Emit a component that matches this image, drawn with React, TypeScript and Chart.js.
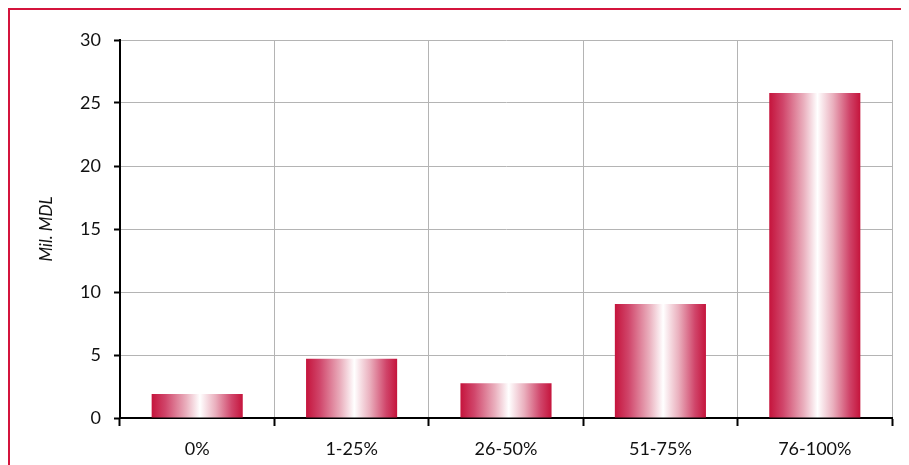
import React, { useEffect, useRef } from "react";
import { Chart, registerables } from "chart.js";

Chart.register(...registerables);

const categories = ["0%", "1-25%", "26-50%", "51-75%", "76-100%"];
const values = [1.9, 4.7, 2.75, 9.05, 25.8];
const yTicks = [0, 5, 10, 15, 20, 25, 30];
const yTitle = "Mil. MDL";

const BAR_PCT = 0.59;

export default function App() {
  const ref = useRef<HTMLCanvasElement | null>(null);

  useEffect(() => {
    if (!ref.current) return;
    const chart = new Chart(ref.current, {
      type: "bar",
      data: {
        labels: categories,
        datasets: [
          {
            data: values,
            borderWidth: 0,
            barPercentage: BAR_PCT,
            categoryPercentage: 1,
            backgroundColor: (ctx: any) => {
              const c = ctx.chart;
              const xs = c.scales && c.scales.x;
              if (!xs || ctx.dataIndex === undefined) return "#c8173f";
              const center = xs.getPixelForValue(ctx.dataIndex);
              const half = (xs.width / categories.length) * BAR_PCT / 2;
              if (!isFinite(center) || !isFinite(half) || half <= 0) return "#c8173f";
              const g = c.ctx.createLinearGradient(center - half, 0, center + half, 0);
              g.addColorStop(0, "#c5143c");
              g.addColorStop(0.15, "#d0456a");
              g.addColorStop(0.38, "#eab0be");
              g.addColorStop(0.53, "#ffffff");
              g.addColorStop(0.7, "#eab0be");
              g.addColorStop(0.88, "#d0456a");
              g.addColorStop(1, "#c5143c");
              return g;
            },
          },
        ],
      },
      options: {
        animation: false,
        responsive: false,
        maintainAspectRatio: false,
        layout: { padding: { left: 0, right: 17, top: 30, bottom: 0 } },
        plugins: { legend: { display: false }, tooltip: { enabled: false } },
        scales: {
          x: {
            grid: {
              offset: true,
              color: "#b4b4b4",
              lineWidth: 1,
              tickColor: "#000000",
              tickLength: 8,
              tickWidth: 2,
            },
            border: { color: "#000000", width: 2 },
            ticks: {
              color: "#111111",
              font: { family: "Lato", size: 18 },
              padding: 12,
            },
            afterFit: (s: any) => {
              s.height = 47;
            },
          },
          y: {
            min: 0,
            max: 30,
            afterBuildTicks: (s: any) => {
              s.ticks = yTicks.map((v) => ({ value: v }));
            },
            grid: {
              color: "#b4b4b4",
              lineWidth: 1,
              tickColor: "#000000",
              tickLength: 6,
              tickWidth: 2,
            },
            border: { color: "#000000", width: 2 },
            ticks: {
              color: "#111111",
              font: { family: "Lato", size: 18 },
              padding: 13,
            },
            title: {
              display: true,
              text: yTitle,
              color: "#111111",
              font: { family: "Lato", size: 17, style: "italic" },
              padding: { top: 26, bottom: 0 },
            },
            afterFit: (s: any) => {
              s.width = 110;
            },
          },
        },
      },
    });
    chart.update();
    return () => chart.destroy();
  }, []);

  return (
    <div
      style={{
        width: 901,
        height: 457,
        boxSizing: "border-box",
        borderTop: "2px solid #d4143c",
        borderLeft: "2px solid #d4143c",
        overflow: "hidden",
        background: "#ffffff",
      }}
    >
      <canvas ref={ref} width={899} height={455} style={{ display: "block" }} />
    </div>
  );
}
